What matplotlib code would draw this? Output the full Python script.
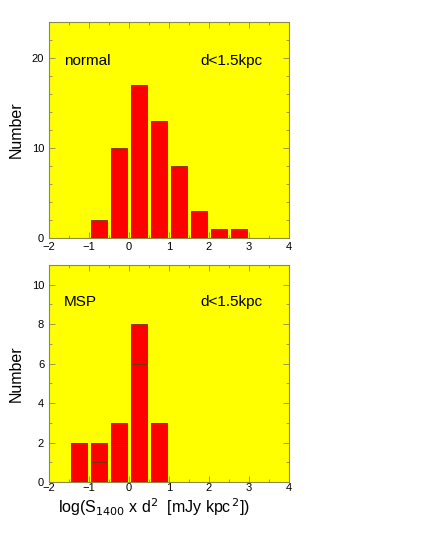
import matplotlib
matplotlib.use("Agg")
import matplotlib.pyplot as plt
from matplotlib.ticker import MultipleLocator

plt.rcParams['font.family'] = ['Liberation Sans', 'DejaVu Sans']

# Data
normal_centers = [-0.75, -0.25, 0.25, 0.75, 1.25, 1.75, 2.25, 2.75]
normal_counts = [2, 10, 17, 13, 8, 3, 1, 1]
msp_centers = [-1.25, -0.75, -0.25, 0.25, 0.75]
msp_counts = [2, 2, 3, 8, 3]
msp_sub_counts = [2, 1, 2, 6, 3]
xticks = [-2, -1, 0, 1, 2, 3, 4]

W, H = 421, 545
fig = plt.figure(figsize=(W / 100, H / 100), dpi=100)

frame = '#8a8a50'
bar_edge = '#7a3000'

def style(ax, ymajor, yminor, ylim):
    ax.set_facecolor('#ffff00')
    ax.set_xlim(-2, 4)
    ax.set_ylim(*ylim)
    ax.set_xticks(xticks)
    ax.set_xticklabels(['\u22122', '\u22121', '0', '1', '2', '3', '4'])
    ax.xaxis.set_minor_locator(MultipleLocator(0.5))
    ax.yaxis.set_major_locator(MultipleLocator(ymajor))
    ax.yaxis.set_minor_locator(MultipleLocator(yminor))
    for s in ax.spines.values():
        s.set_color(frame)
        s.set_linewidth(0.8)
    ax.tick_params(which='both', direction='in', top=True, right=True,
                   color=frame, labelsize=8, width=0.6)
    ax.tick_params(which='major', length=4)
    ax.tick_params(which='minor', length=2.5)
    ax.set_ylabel('Number', fontsize=11.5, labelpad=6)

# top panel
ax1 = fig.add_axes([49 / W, 1 - 238 / H, 240 / W, 216 / H])
ax1.bar(normal_centers, normal_counts, width=0.4, color='#ff0000',
        edgecolor=bar_edge, linewidth=0.6, zorder=3)
style(ax1, 10, 2, (0, 24))
ax1.tick_params(axis='x', pad=3)
ax1.text(-1.625, 19.7, 'normal', fontsize=11, va='center', ha='left')
ax1.text(1.775, 19.7, 'd<1.5kpc', fontsize=11, va='center', ha='left')

# bottom panel
ax2 = fig.add_axes([49 / W, 1 - 482 / H, 240 / W, 217 / H])
ax2.bar(msp_centers, msp_sub_counts, width=0.38, color='#ff0000',
        edgecolor=bar_edge, linewidth=0.6, zorder=3)
ax2.bar(msp_centers, [t - s for t, s in zip(msp_counts, msp_sub_counts)],
        bottom=msp_sub_counts, width=0.38, color='#ff0000',
        edgecolor=bar_edge, linewidth=0.6, zorder=3)
style(ax2, 2, 1, (0, 11))
ax2.tick_params(axis='x', pad=1)
ax2.text(-1.625, 9.1, 'MSP', fontsize=11, va='center', ha='left')
ax2.text(1.775, 9.1, 'd<1.5kpc', fontsize=11, va='center', ha='left')
ax2.set_xlabel(r'log(S$_{1400}$ x d$^{2}$  [mJy kpc$^{\,2}$])', fontsize=11.5)
ax2.xaxis.set_label_coords((154 - 49) / 240, -0.065)
ax2.xaxis.label.set_va('top')

fig.savefig('out.png', dpi=100, facecolor='white')
